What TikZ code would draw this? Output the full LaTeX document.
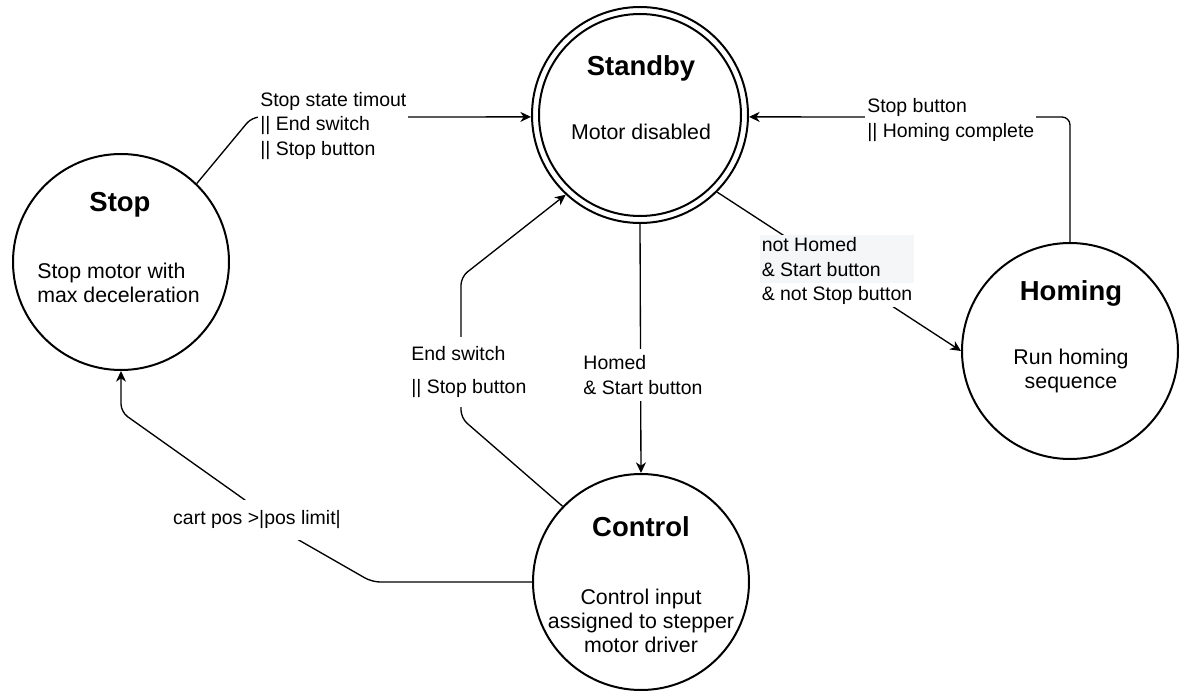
\documentclass[tikz,border=0pt]{standalone}
\usepackage{fontspec}
\setmainfont{Liberation Sans}
\usetikzlibrary{arrows.meta}
\definecolor{labelbg}{HTML}{F4F6F8}

\begin{document}
\begin{tikzpicture}[x=0.75pt,y=-0.75pt]
\tikzset{
  state/.style={circle, draw, line width=1.5pt, minimum size=162pt, inner sep=0pt},
  conn/.style={line width=1pt, -{Stealth[length=8pt,width=7.5pt,inset=2.5pt]}},
  ttl/.style={font=\fontsize{20.6pt}{24pt}\selectfont\bfseries, inner sep=0pt},
  body/.style={font=\fontsize{16pt}{18pt}\selectfont, align=center, inner sep=0pt},
  elabel/.style={font=\fontsize{14.6pt}{18.3pt}\selectfont, align=left, fill=white,
                 inner xsep=1.5pt, inner ysep=2pt},
}
% canvas
\fill[white] (0,0) rectangle (1179,692);

% states
\node[state] (standby) at (640,115) {};
\draw[line width=1.5pt] (standby.center) circle (101);
\node[ttl] (standbyT) at (641,68) {Standby};
\node[body] (standbyB) at (641,132) {Motor disabled};

\node[state] (stop) at (121,262) {};
\node[ttl] (stopT) at (120,205) {Stop};
\node[body, align=left] (stopB) at (118.5,283) {Stop motor with\\max deceleration};

\node[state] (homing) at (1070,351) {};
\node[ttl] (homingT) at (1071,293) {Homing};
\node[body] (homingB) at (1071,371) {Run homing\\sequence};

\node[state] (control) at (641,582) {};
\node[ttl] (controlT) at (641,527) {Control};
\node[body] (controlB) at (641,621) {Control input\\assigned to stepper\\motor driver};

% transitions
\draw[conn, rounded corners=6pt] (stop.46) -- (252,117) -- (standby.181);
\node[elabel, anchor=west] (lstop) at (258,126)
  {Stop state timout\\|| End switch\\|| Stop button};

\draw[conn] (standby.south) -- (control.north);
\node[elabel, inner ysep=5pt] (lhomed) at (643,375) {Homed\\\& Start button};

\draw[conn] (standby.-45) -- (homing.180);
\node[elabel, path picture={\fill[labelbg] (path picture bounding box.north west)
      rectangle ([yshift=-36pt]path picture bounding box.north east);}]
  (lnothomed) at (837,271) {not Homed\\\& Start button\\\& not Stop button};

\draw[conn, rounded corners=6pt] (homing.north) -- (1070,117) -- (standby.-1);
\node[elabel, anchor=west] (lhomingdone) at (865,120) {Stop button\\|| Homing complete};

\draw[conn, rounded corners=6pt] (control.136) -- (461,418) -- (461,277) -- (standby.227);
\node[elabel, anchor=west, inner ysep=6.75pt] (lend) at (409,372)
  {End switch\\[6.4pt]|| Stop button};

\draw[conn, rounded corners=6pt] (control.west) -- (372,582) -- (290,535)
  -- (245,500) -- (121,412) -- (stop.south);
\node[elabel, inner ysep=8pt] (lcart) at (257,520) {cart pos >|pos limit|};
\end{tikzpicture}
\end{document}
